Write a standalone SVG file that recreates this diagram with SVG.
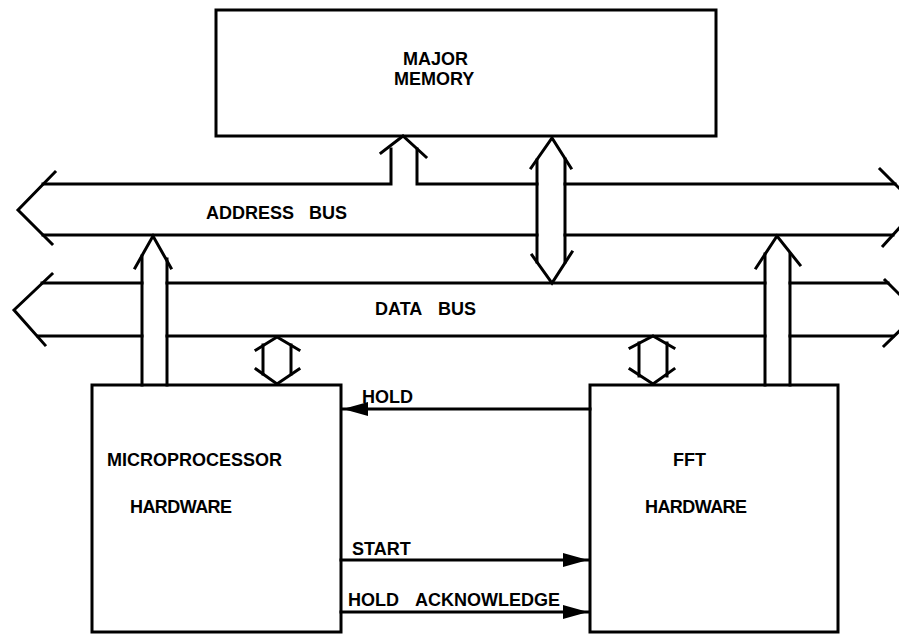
<svg xmlns="http://www.w3.org/2000/svg" width="899" height="636" viewBox="0 0 899 636">
<defs>
<style>
.ln{fill:none;stroke:#000;stroke-width:3;stroke-linejoin:miter;stroke-linecap:square}
.box{fill:#fff;stroke:#000;stroke-width:3}
.t{font-family:"Liberation Sans",Arial,sans-serif;font-weight:bold;font-size:18px;fill:#000}
</style>
<marker id="fa" viewBox="0 0 25 14" refX="25" refY="7" markerWidth="25" markerHeight="14" markerUnits="userSpaceOnUse" orient="auto">
<path d="M0,0 L25,7 L0,14 Z" fill="#000"/>
</marker>
</defs>
<rect width="899" height="636" fill="#fff"/>

<g id="major-memory">
<rect class="box" x="216" y="10" width="500" height="126"/>
<text class="t" x="403" y="65">MAJOR</text>
<text class="t" x="394" y="85">MEMORY</text>
</g>

<g id="address-bus">
<polyline class="ln" points="55,172 18,210 52,244"/>
<polyline class="ln" points="880,169 918,207 883,246"/>
<polyline class="ln" points="43,184 391,184 391,149"/>
<polyline class="ln" points="417,149 417,184 537,184"/>
<line class="ln" x1="565" y1="184" x2="895" y2="184"/>
<line class="ln" x1="43" y1="235" x2="537" y2="235"/>
<line class="ln" x1="565" y1="235" x2="893" y2="235"/>
<text class="t" x="206" y="219">ADDRESS <tspan x="309">BUS</tspan></text>
</g>

<g id="data-bus">
<polyline class="ln" points="52,274 14,310 45,345"/>
<polyline class="ln" points="885,280 918,313 884,346"/>
<line class="ln" x1="42" y1="283" x2="142" y2="283"/>
<line class="ln" x1="167" y1="283" x2="765" y2="283"/>
<line class="ln" x1="790" y1="283" x2="888" y2="283"/>
<line class="ln" x1="38" y1="336" x2="142" y2="336"/>
<line class="ln" x1="167" y1="336" x2="765" y2="336"/>
<line class="ln" x1="790" y1="336" x2="893" y2="336"/>
<text class="t" x="375" y="315">DATA <tspan x="438">BUS</tspan></text>
</g>

<g id="microprocessor-hardware">
<rect class="box" x="92" y="385" width="249" height="247"/>
<text class="t" x="107" y="466">MICROPROCESSOR</text>
<text class="t" x="130" y="513" textLength="102">HARDWARE</text>
</g>

<g id="fft-hardware">
<rect class="box" x="590" y="385" width="248" height="247"/>
<text class="t" x="673" y="466">FFT</text>
<text class="t" x="645" y="513" textLength="102">HARDWARE</text>
</g>

<g id="connectors">
<!-- memory address arrow head -->
<polyline class="ln" points="381,153 403,136 426,157"/>
<!-- memory <-> data bus -->
<polyline class="ln" points="531,168 552,138 571,168"/>
<polyline class="ln" points="532,255 552,283 572,252"/>
<line class="ln" x1="537" y1="160" x2="537" y2="262"/>
<line class="ln" x1="565" y1="159" x2="565" y2="262"/>
<!-- microprocessor address arrow -->
<polyline class="ln" points="135,268 153,236 171,268"/>
<line class="ln" x1="142" y1="256" x2="142" y2="385"/>
<line class="ln" x1="167" y1="259" x2="167" y2="385"/>
<!-- fft address arrow -->
<polyline class="ln" points="756,268 777,236 800,265"/>
<line class="ln" x1="765" y1="254" x2="765" y2="385"/>
<line class="ln" x1="790" y1="254" x2="790" y2="385"/>
<!-- microprocessor <-> data bus -->
<polyline class="ln" points="256,350 277,337 299,350"/>
<polyline class="ln" points="256,369 277,384 299,369"/>
<line class="ln" x1="263" y1="345" x2="263" y2="374"/>
<line class="ln" x1="291" y1="345" x2="291" y2="374"/>
<!-- fft <-> data bus -->
<polyline class="ln" points="630,348 653,336 674,348"/>
<polyline class="ln" points="630,369 653,384 674,369"/>
<line class="ln" x1="639" y1="343" x2="639" y2="376"/>
<line class="ln" x1="667" y1="343" x2="667" y2="376"/>
<!-- control signals -->
<line class="ln" x1="590" y1="409" x2="343" y2="409" marker-end="url(#fa)"/>
<text class="t" x="362" y="403">HOLD</text>
<line class="ln" x1="341" y1="560" x2="588" y2="560" marker-end="url(#fa)"/>
<text class="t" x="352" y="555">START</text>
<line class="ln" x1="341" y1="612" x2="588" y2="612" marker-end="url(#fa)"/>
<text class="t" x="348" y="606">HOLD <tspan x="415">ACKNOWLEDGE</tspan></text>
</g>
</svg>
